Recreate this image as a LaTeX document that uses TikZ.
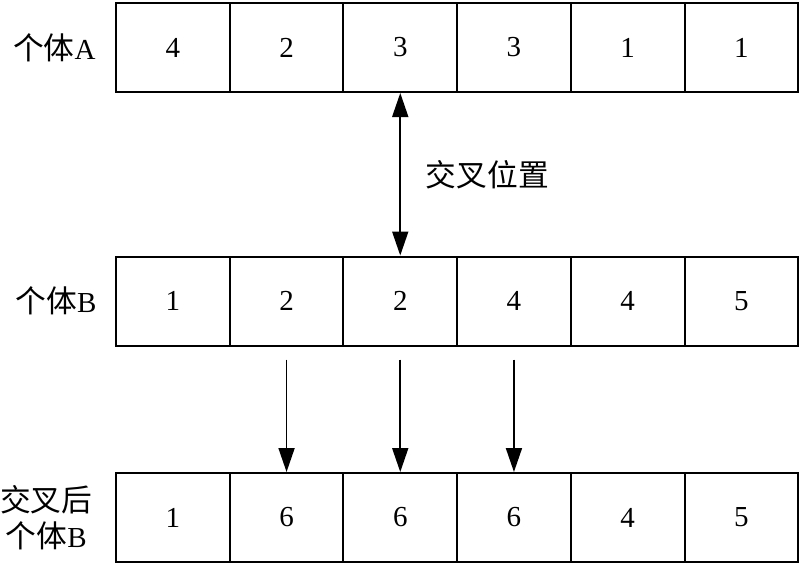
\documentclass[tikz,border=0pt]{standalone}
\usepackage{fontspec}
\setmainfont{Liberation Serif}
\newfontfamily\cjk[Scale=1.06]{Noto Sans CJK SC}
\usetikzlibrary{positioning,arrows.meta,calc}

\begin{document}
\begin{tikzpicture}[x=1pt, y=-1pt,
every node/.style = {font=\fontsize{29}{36}\selectfont},
  cell/.style = {draw, line width=2pt, minimum width=113.7pt, minimum height=89pt, inner sep=0pt},
  arr/.style = {line width=1.8pt, -{Triangle[length=24pt, width=16pt]}},
  dbl/.style = {line width=1.8pt, {Triangle[length=24pt, width=16pt]}-{Triangle[length=24pt, width=16pt]}}
]
\useasboundingbox (0,0) rectangle (800,565);
% the three rows of genes
\foreach \v [count=\i] in {4,2,3,3,1,1}
    \node[cell] (A\i) at (59.15+113.7*\i, 47.5) {\v};
\foreach \v [count=\i] in {1,2,2,4,4,5}
    \node[cell] (B\i) at (59.15+113.7*\i, 301) {\v};
\foreach \v [count=\i] in {1,6,6,6,4,5}
    \node[cell] (C\i) at (59.15+113.7*\i, 517.5) {\v};
% row labels
\node[left=16pt of A1] (nameA) {{\cjk 个体}A};
\node[left=15pt of B1] (nameB) {{\cjk 个体}B};
\node[left=19pt of C1, align=center] (nameC) {{\cjk 交叉后}\\{\cjk 个体}B};
% crossover point
\draw[dbl] (A3.south) -- (B3.north);
\node[right=22pt] (cross) at ($(A3.south)!0.5!(B3.north)$) {\cjk 交叉位置};
% copied genes
\foreach \i in {2,3,4} {
    \coordinate (s\i) at ([yshift=-13pt]B\i.south);
    \draw[arr] (s\i) -- (C\i.north);
}
\end{tikzpicture}
\end{document}
